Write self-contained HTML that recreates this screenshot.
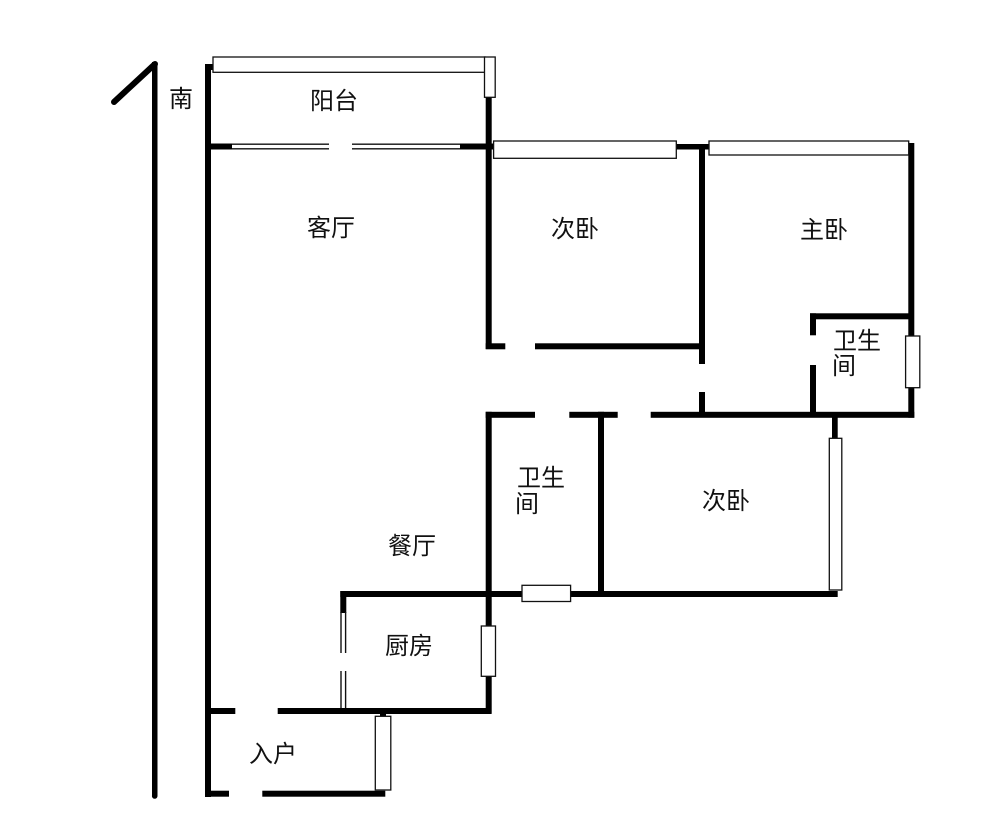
<!DOCTYPE html>
<html>
<head>
<meta charset="utf-8">
<style>
html,body{margin:0;padding:0;background:#fff;width:1000px;height:839px;overflow:hidden}
svg{display:block}
text{font-family:"Liberation Sans","Noto Sans CJK SC",sans-serif;font-size:24px;fill:#111}
.w{fill:#000}
.g{fill:#fff;stroke:#111;stroke-width:1.3}
</style>
</head>
<body>
<svg width="1000" height="839" viewBox="0 0 1000 839" xmlns="http://www.w3.org/2000/svg">
<rect width="1000" height="839" fill="#fff"/>
<!-- north marker -->
<rect class="w" x="152" y="62" width="5.5" height="734"/>
<line x1="155" y1="64" x2="114" y2="102" stroke="#000" stroke-width="6" stroke-linecap="round"/>
<circle class="w" cx="154.7" cy="796" r="2.8"/>
<!-- walls -->
<g class="w">
<rect x="205" y="64" width="6" height="733"/>
<rect x="205" y="64" width="9" height="6"/>
<rect x="485.7" y="97" width="6" height="252"/>
<rect x="205" y="143.5" width="27" height="6"/>
<rect x="460" y="143.5" width="34" height="6"/>
<rect x="676" y="144" width="33" height="5.5"/>
<rect x="699" y="144" width="6" height="220"/>
<rect x="699" y="392" width="6" height="24"/>
<rect x="908.3" y="143" width="6" height="274.7"/>
<rect x="810" y="313.3" width="100" height="6"/>
<rect x="810" y="313.3" width="6" height="22"/>
<rect x="810" y="365" width="6" height="50"/>
<rect x="485.7" y="343.3" width="19.6" height="6"/>
<rect x="535" y="343.3" width="166" height="6"/>
<rect x="485.7" y="411.8" width="49.3" height="6"/>
<rect x="569.3" y="411.8" width="48.4" height="6"/>
<rect x="650.7" y="411.8" width="263.6" height="6"/>
<rect x="485.7" y="411.8" width="6" height="302"/>
<rect x="598" y="411.8" width="6" height="184"/>
<rect x="832" y="417" width="5.7" height="22"/>
<rect x="340.3" y="591" width="497.4" height="6"/>
<rect x="340.3" y="591" width="6" height="22"/>
<rect x="277.7" y="708" width="213.7" height="6"/>
<rect x="205" y="708" width="30.3" height="6"/>
<rect x="380" y="713" width="6" height="4"/>
<rect x="205" y="790.7" width="24" height="6"/>
<rect x="262.3" y="790.7" width="123" height="6"/>
</g>
<!-- sliding doors -->
<g stroke="#111" stroke-width="1.4" fill="none">
<line x1="232" y1="144.2" x2="329" y2="144.2"/>
<line x1="232" y1="148.8" x2="329" y2="148.8"/>
<line x1="352" y1="144.2" x2="460" y2="144.2"/>
<line x1="352" y1="148.8" x2="460" y2="148.8"/>
<line x1="341" y1="612" x2="341" y2="653"/>
<line x1="345.6" y1="612" x2="345.6" y2="653"/>
<line x1="341" y1="671" x2="341" y2="708"/>
<line x1="345.6" y1="671" x2="345.6" y2="708"/>
</g>
<!-- windows -->
<rect class="g" x="213" y="57" width="272" height="15.3"/>
<rect class="g" x="484.5" y="57" width="10.7" height="40.3"/>
<rect class="g" x="493.6" y="141" width="182.7" height="17.3"/>
<rect class="g" x="709" y="141" width="199.7" height="14"/>
<rect class="g" x="905.6" y="336" width="14.2" height="51.7"/>
<rect class="g" x="829.3" y="438.3" width="12.5" height="151.7"/>
<rect class="g" x="522" y="585.3" width="48.6" height="16.2"/>
<rect class="g" x="481.3" y="626" width="14.2" height="50.3"/>
<rect class="g" x="375.3" y="716.3" width="15.5" height="73.7"/>
<!-- labels -->
<text x="169" y="107">南</text>
<text x="310" y="109">阳台</text>
<text x="307" y="236">客厅</text>
<text x="551" y="237">次卧</text>
<text x="800" y="238">主卧</text>
<text x="833" y="349">卫生</text>
<text x="832" y="374">间</text>
<text x="517" y="486">卫生</text>
<text x="515" y="512">间</text>
<text x="702" y="509">次卧</text>
<text x="388" y="554">餐厅</text>
<text x="385" y="654">厨房</text>
<text x="249" y="762">入户</text>
</svg>
</body>
</html>
